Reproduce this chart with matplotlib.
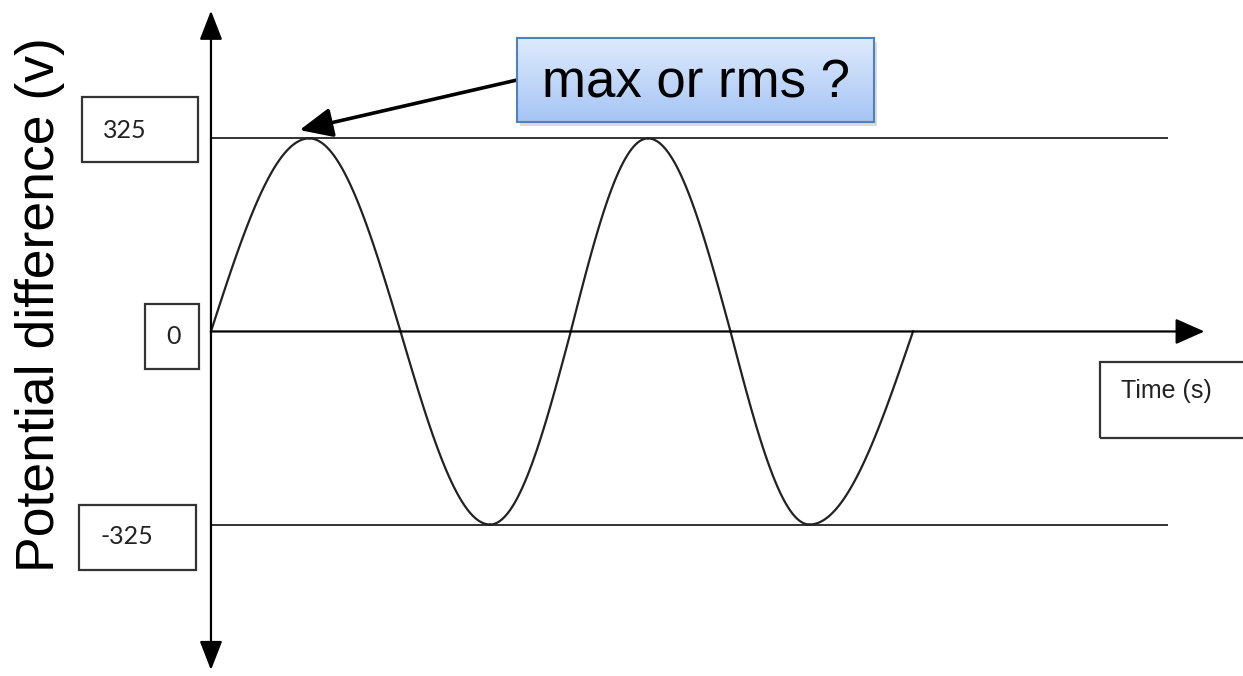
import numpy as np
import matplotlib.pyplot as plt
from matplotlib.patches import Rectangle

# peak value of the supply (V) and times (ms) of each quarter cycle point
amplitude = 325
key_times = [0, 5.6, 10.8, 15.9, 20.5, 24.9, 29.6, 34.1, 40.0]

level_labels = ['325', '0', '-325']
x_label = 'Time (s)'
y_label = 'Potential difference (v)'
question = 'max or rms ?'

W, H = 1243, 676


def fig_px(x, y):
    # pixel position (from top left) to figure fraction
    return x / W, 1 - y / H


fig = plt.figure(figsize=(W / 100, H / 100), dpi=100)
ax = fig.add_axes([0, 0, 1, 1])
ax.set_xlim(-12.02, 58.8)
ax.set_ylim(-580.0, 558.0)
ax.axis('off')

# the wave, one quarter cycle at a time
for i in range(len(key_times) - 1):
    s = np.linspace(0, 1, 80)
    t = key_times[i] + s * (key_times[i + 1] - key_times[i])
    v = amplitude * np.sin((i + s) * np.pi / 2)
    ax.plot(t, v, color='#222222', lw=1.6, zorder=3)

# max / min reference lines
ax.hlines([amplitude, -amplitude], 0, 54.5, color='#222222', lw=1.3, zorder=2)

# axes with arrow heads
ax.annotate('', xy=(56.6, 0), xytext=(0, 0),
            arrowprops=dict(arrowstyle='-|>,head_length=0.9,head_width=0.4',
                            color='black', lw=1.6, shrinkA=0, shrinkB=0,
                            mutation_scale=20), zorder=4)
ax.annotate('', xy=(0, 540), xytext=(0, -570),
            arrowprops=dict(arrowstyle='<|-|>,head_length=0.9,head_width=0.35',
                            color='black', lw=1.6, shrinkA=0, shrinkB=0,
                            mutation_scale=20), zorder=4)

# value boxes on the left
boxes = [(82, 97, 198, 162), (145, 304, 199, 369), (79, 505, 196, 570)]
text_pos = [(103, 130), (166, 336), (100, 537)]
for (x0, y0, x1, y1), (tx, ty), lab in zip(boxes, text_pos, level_labels):
    fx0, fy1 = fig_px(x0, y1)
    fig.patches.append(Rectangle((fx0, fy1), (x1 - x0) / W, (y1 - y0) / H,
                                 transform=fig.transFigure, fill=False,
                                 edgecolor='#333333', lw=1.6))
    fig.text(*fig_px(tx, ty), lab, ha='left', va='center', fontsize=18,
             family='Lato', color='#222222')

# time label box
fx0, fy1 = fig_px(1100, 438)
fig.patches.append(Rectangle((fx0, fy1), 160 / W, 76 / H,
                             transform=fig.transFigure, fill=False,
                             edgecolor='#333333', lw=1.6))
fig.text(*fig_px(1121, 391), x_label, ha='left', va='center', fontsize=18,
         family='Liberation Sans', color='#222222')

# y axis title
fig.text(*fig_px(40, 305), y_label, rotation=90, ha='center', va='center',
         fontsize=38.5, family='Liberation Sans', color='black')

# question callout with gradient fill
bx0, by0, bx1, by1 = 517, 38, 874, 122
sx, sy = fig_px(bx0 + 3, by1 + 4)
fig.patches.append(Rectangle((sx, sy), (bx1 - bx0) / W, (by1 - by0) / H,
                             transform=fig.transFigure, facecolor='#999999',
                             edgecolor='none', alpha=0.35, zorder=1))
lx, ly = fig_px(bx0, by1)
bax = fig.add_axes([lx, ly, (bx1 - bx0) / W, (by1 - by0) / H], zorder=2)
grad = np.linspace(0, 1, 100).reshape(-1, 1)
top = np.array([0.87, 0.92, 0.99])
bottom = np.array([0.65, 0.77, 0.96])
img = top + grad[..., None] * (bottom - top)
bax.imshow(img, aspect='auto', extent=(0, 1, 0, 1))
bax.set_xticks([])
bax.set_yticks([])
for sp in bax.spines.values():
    sp.set_color('#4f81bd')
    sp.set_linewidth(1.5)
bax.text(0.5, 0.46, question, ha='center', va='center', fontsize=38,
         family='Liberation Sans', color='black', transform=bax.transAxes)

# arrow from the callout to the first peak
ax.annotate('', xy=(key_times[1] - 0.55, amplitude + 14),
            xytext=fig_px(bx0, 80), textcoords='figure fraction',
            arrowprops=dict(arrowstyle='-|>,head_length=1.0,head_width=0.45',
                            color='black', lw=2.6, shrinkA=0, shrinkB=0,
                            mutation_scale=20), zorder=5)

fig.savefig('out.png', dpi=100)
